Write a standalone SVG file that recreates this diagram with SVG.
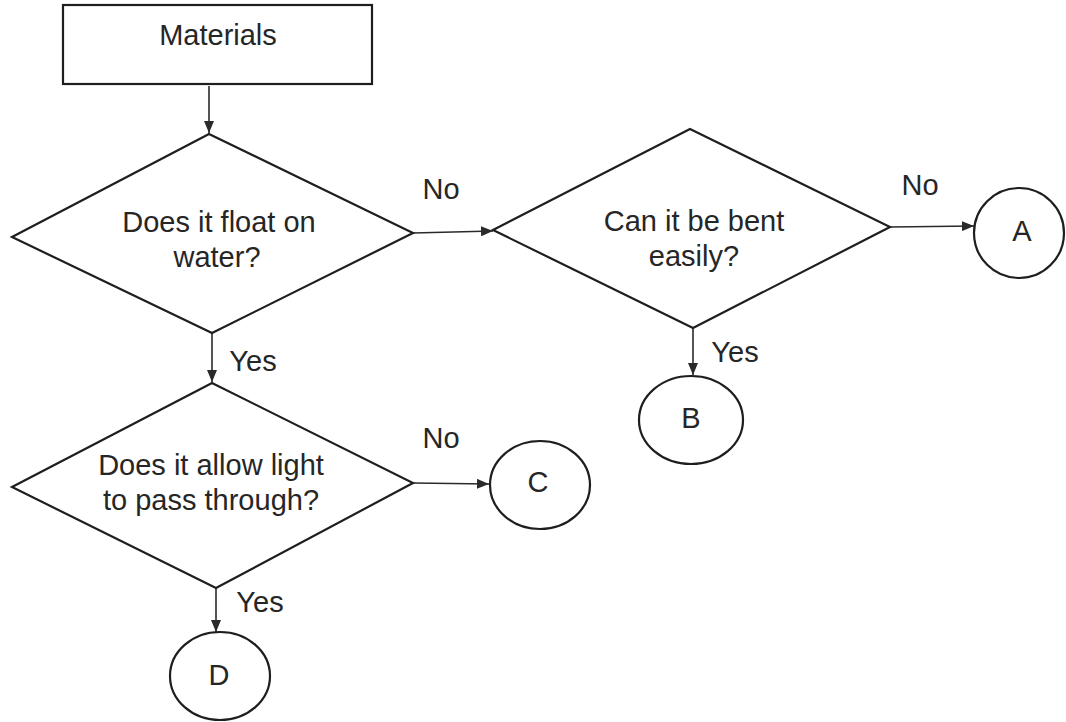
<svg xmlns="http://www.w3.org/2000/svg" width="1066" height="722" viewBox="0 0 1066 722">
<defs>
<style>
.shape{fill:none;stroke:#1e1e1e;stroke-width:2.2;stroke-linejoin:miter}
.conn{fill:none;stroke:#2a2a2a;stroke-width:1.6}
.t{font-family:"Liberation Sans",Arial,sans-serif;font-size:29px;fill:#262626;text-anchor:middle}
</style>
<marker id="arr" viewBox="0 0 12 10" refX="12" refY="5" markerWidth="12" markerHeight="10" markerUnits="userSpaceOnUse" orient="auto">
<path d="M0,0 L12,5 L0,10 Z" fill="#2a2a2a"/>
</marker>
</defs>
<rect width="1066" height="722" fill="#ffffff"/>
<g id="connectors">
<line class="conn" x1="209" y1="86" x2="209" y2="133" marker-end="url(#arr)"/>
<line class="conn" x1="413" y1="233" x2="493" y2="231" marker-end="url(#arr)"/>
<line class="conn" x1="890" y1="227" x2="974" y2="226" marker-end="url(#arr)"/>
<line class="conn" x1="693" y1="328" x2="693" y2="375" marker-end="url(#arr)"/>
<line class="conn" x1="212" y1="333" x2="212" y2="382" marker-end="url(#arr)"/>
<line class="conn" x1="413" y1="483" x2="489" y2="484" marker-end="url(#arr)"/>
<line class="conn" x1="216" y1="588" x2="216" y2="632" marker-end="url(#arr)"/>
<text class="t" x="441" y="199">No</text>
<text class="t" x="920" y="195">No</text>
<text class="t" x="735" y="362">Yes</text>
<text class="t" x="253" y="371">Yes</text>
<text class="t" x="441" y="448">No</text>
<text class="t" x="260" y="612">Yes</text>
</g>
<g id="materials">
<rect class="shape" x="63" y="5" width="309" height="79"/>
<text class="t" x="218" y="45">Materials</text>
</g>
<g id="float">
<polygon class="shape" points="209,134 413,233 212,333 12,237"/>
<text class="t" x="219" y="232">Does it float on</text>
<text class="t" x="217" y="267">water?</text>
</g>
<g id="bent">
<polygon class="shape" points="690,129 890,227 693,328 493,230"/>
<text class="t" x="694" y="231">Can it be bent</text>
<text class="t" x="694" y="266">easily?</text>
</g>
<g id="light">
<polygon class="shape" points="212,383 413,483 216,588 12,487"/>
<text class="t" x="211" y="475">Does it allow light</text>
<text class="t" x="211" y="510">to pass through?</text>
</g>
<g id="nodeA">
<ellipse class="shape" cx="1019" cy="233" rx="45" ry="45"/>
<text class="t" x="1022" y="241">A</text>
</g>
<g id="nodeB">
<ellipse class="shape" cx="691" cy="420" rx="52" ry="44"/>
<text class="t" x="691" y="428">B</text>
</g>
<g id="nodeC">
<ellipse class="shape" cx="540" cy="485" rx="50" ry="44"/>
<text class="t" x="538" y="492">C</text>
</g>
<g id="nodeD">
<ellipse class="shape" cx="220" cy="676" rx="50" ry="44"/>
<text class="t" x="219" y="685">D</text>
</g>
</svg>
